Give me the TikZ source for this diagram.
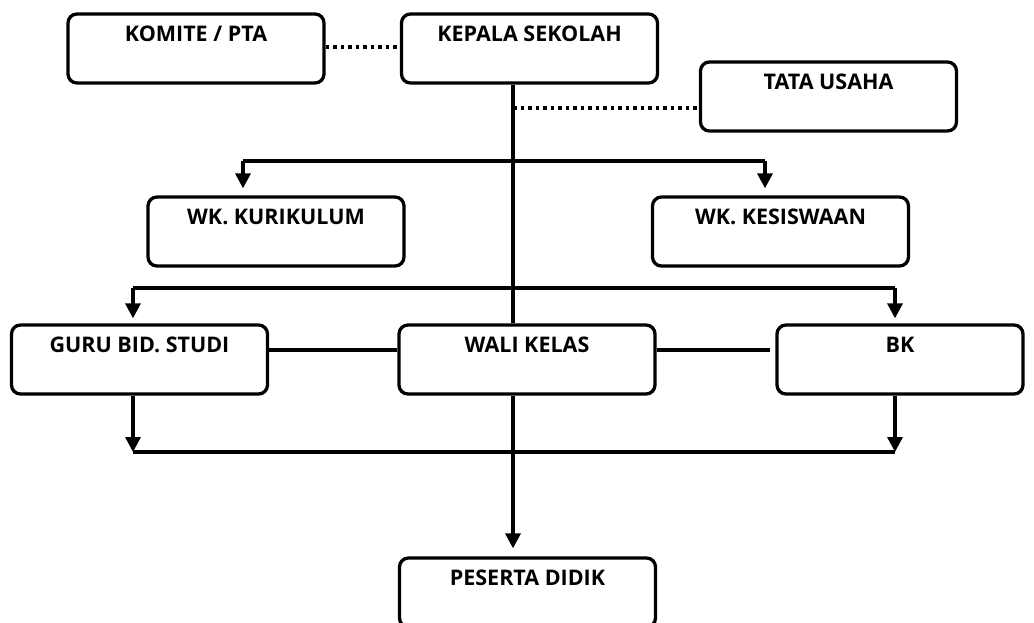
\documentclass[tikz,border=0pt]{standalone}
\usepackage{fontspec}
\setmainfont{Open Sans}
\usetikzlibrary{arrows.meta}
\usetikzlibrary{calc}
\tikzset{
	orgbox/.style={draw, line width=3.3pt, rounded corners=9pt, minimum width=256pt,
		text height=16pt, text depth=31pt, inner ysep=11pt, font=\bfseries\fontsize{21.5}{24}\selectfont},
	conn/.style={line width=3.3pt},
	dotconn/.style={line width=3.5pt, dash pattern=on 3.5pt off 4pt},
	tip/.style={-{Triangle[width=15pt,length=15pt]}}
}
\newcommand{\drawOrgBox}[3]{
	\node[orgbox] (#1) at (#2) {#3};
}

\begin{document}
\begin{tikzpicture}[x=1pt,y=-1pt]
		\useasboundingbox (0,0) rectangle (1034,622);
		\clip (0,0) rectangle (1034,622);

		\drawOrgBox{komite}{196,48.5}{KOMITE / PTA}
		\drawOrgBox{kepala}{529.5,48.5}{KEPALA SEKOLAH}
		\drawOrgBox{tu}{828.5,96.5}{TATA USAHA}
		\drawOrgBox{kurikulum}{276,231.5}{WK. KURIKULUM}
		\drawOrgBox{kesiswaan}{780.5,231.5}{WK. KESISWAAN}
		\drawOrgBox{guru}{139.5,359.5}{GURU BID. STUDI}
		\drawOrgBox{wali}{527,359.5}{WALI KELAS}
		\node[orgbox, minimum width=246pt] (bk) at (900,359.5) {BK};
		\drawOrgBox{peserta}{527.5,592.5}{PESERTA DIDIK}

		\coordinate (spine) at (513,0);
		\coordinate (B1_L) at (243,161);
		\coordinate (B1_R) at (765,161);
		\coordinate (B2_L) at (133,288);
		\coordinate (B2_R) at (895,288);
		\coordinate (B3_L) at (133,452);
		\coordinate (B3_R) at (895,452);
		\coordinate (midrow) at (0,350);
		\coordinate (tuline) at (0,108);

		\draw[dotconn] (komite.east |- 0,47) -- (kepala.west |- 0,47);
		\draw[conn] (kepala.south -| spine) -- (wali.north -| spine);
		\draw[dotconn] (tuline -| spine) -- (tu.west |- tuline);

		\draw[conn, tip, shorten >=7pt] (B1_L) -- (kurikulum.north -| B1_L);
		\draw[conn] (B1_L) -- (B1_R);
		\draw[conn, tip, shorten >=7pt] (B1_R) -- (kesiswaan.north -| B1_R);

		\draw[conn, tip, shorten >=5pt] (B2_L) -- (guru.north -| B2_L);
		\draw[conn] (B2_L) -- (B2_R);
		\draw[conn, tip, shorten >=5pt] (B2_R) -- (bk.north -| B2_R);

		\draw[conn] (guru.east |- midrow) -- (wali.west |- midrow);
		\draw[conn] (wali.east |- midrow) -- ($(bk.west |- midrow)+(-5,0)$);

		\draw[conn, tip] (guru.south -| B3_L) -- (B3_L);
		\draw[conn] (B3_L) -- (B3_R);
		\draw[conn, tip] (bk.south -| B3_R) -- (B3_R);
		\draw[conn, tip, shorten >=8pt] (wali.south -| spine) -- (peserta.north -| spine);

	\end{tikzpicture}
\end{document}
